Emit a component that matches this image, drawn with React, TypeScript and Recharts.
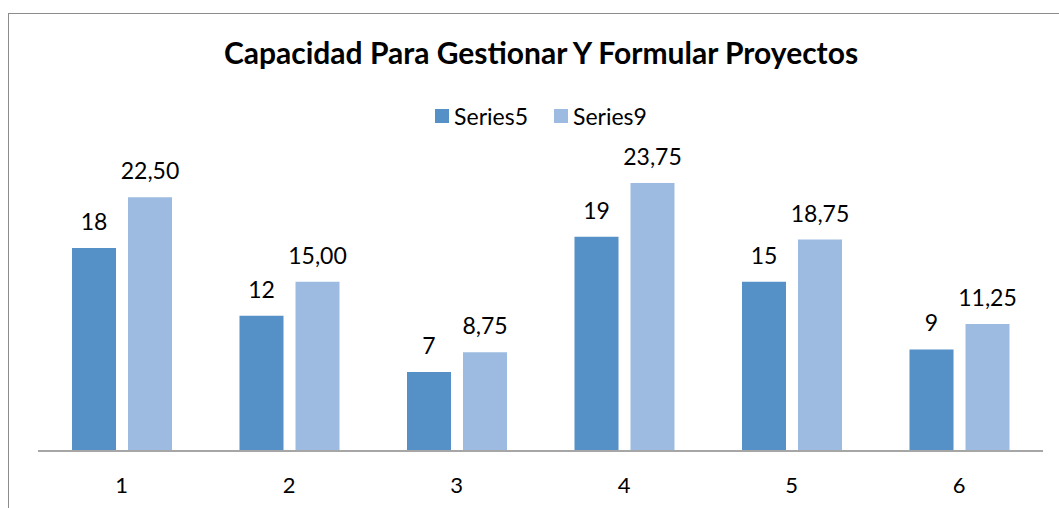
import React from "react";
import { BarChart, Bar, XAxis, YAxis, LabelList } from "recharts";

const categories = ["1", "2", "3", "4", "5", "6"];
const series5 = [18, 12, 7, 19, 15, 9];
const series9 = [22.5, 15, 8.75, 23.75, 18.75, 11.25];
const seriesNames = ["Series5", "Series9"];
const colors = ["#5590C7", "#9DBBE1"];

const data = categories.map((c, i) => ({
  cat: c,
  [seriesNames[0]]: series5[i],
  [seriesNames[1]]: series9[i],
}));

const FONT = "Lato, 'Open Sans', sans-serif";

const fmt5 = (v: any) => String(v);
const fmt9 = (v: any) => Number(v).toFixed(2).replace(".", ",");

const CatTick = (props: any) => {
  const { x, y, payload } = props;
  return (
    <text x={x} y={y + 42} textAnchor="middle" fontFamily={FONT} fontSize={22} fill="#000">
      {payload.value}
    </text>
  );
};

const LegendBlock = () => (
  <div
    style={{
      position: "absolute",
      top: 88,
      left: 0,
      width: 1064,
      display: "flex",
      justifyContent: "center",
      alignItems: "center",
      fontFamily: FONT,
      fontSize: 23,
      color: "#000",
    }}
  >
    {seriesNames.map((n, i) => (
      <div key={n} style={{ display: "flex", alignItems: "center", marginLeft: i === 0 ? 0 : 26 }}>
        <div style={{ width: 14, height: 14, background: colors[i], marginRight: 5 }} />
        <span>{n}</span>
      </div>
    ))}
  </div>
);

export default function App() {
  return (
    <div
      style={{
        position: "absolute",
        left: 8,
        top: 13,
        width: 1050,
        height: 494,
        borderLeft: "1px solid #8C8C8C",
        borderTop: "1px solid #8C8C8C",
        background: "#fff",
      }}
    >
      <div
        style={{
          position: "absolute",
          left: 0,
          width: 1064,
          top: 20,
          textAlign: "center",
          fontFamily: FONT,
          fontWeight: 700,
          fontSize: 30,
          color: "#000",
        }}
      >
        Capacidad Para Gestionar Y Formular Proyectos
      </div>
      <LegendBlock />
      <BarChart
        width={1050}
        height={494}
        data={data}
        margin={{ top: 155, right: 16, bottom: 0, left: 29 }}
        barGap={12}
        barSize={44}
      >
        <XAxis
          dataKey="cat"
          height={57}
          tickLine={false}
          tickSize={0}
          tickMargin={0}
          axisLine={{ stroke: "#A6A6A6", strokeWidth: 2 }}
          tick={<CatTick />}
          interval={0}
        />
        <YAxis hide domain={[0, 25]} ticks={[0, 5, 10, 15, 20, 25]} />
        <Bar dataKey={seriesNames[0]} fill={colors[0]} isAnimationActive={false}>
          <LabelList dataKey={seriesNames[0]} position="top" offset={18} formatter={fmt5} fontFamily={FONT} fontSize={23} fill="#000" />
        </Bar>
        <Bar dataKey={seriesNames[1]} fill={colors[1]} isAnimationActive={false}>
          <LabelList dataKey={seriesNames[1]} position="top" offset={18} formatter={fmt9} fontFamily={FONT} fontSize={23} fill="#000" />
        </Bar>
      </BarChart>
    </div>
  );
}
